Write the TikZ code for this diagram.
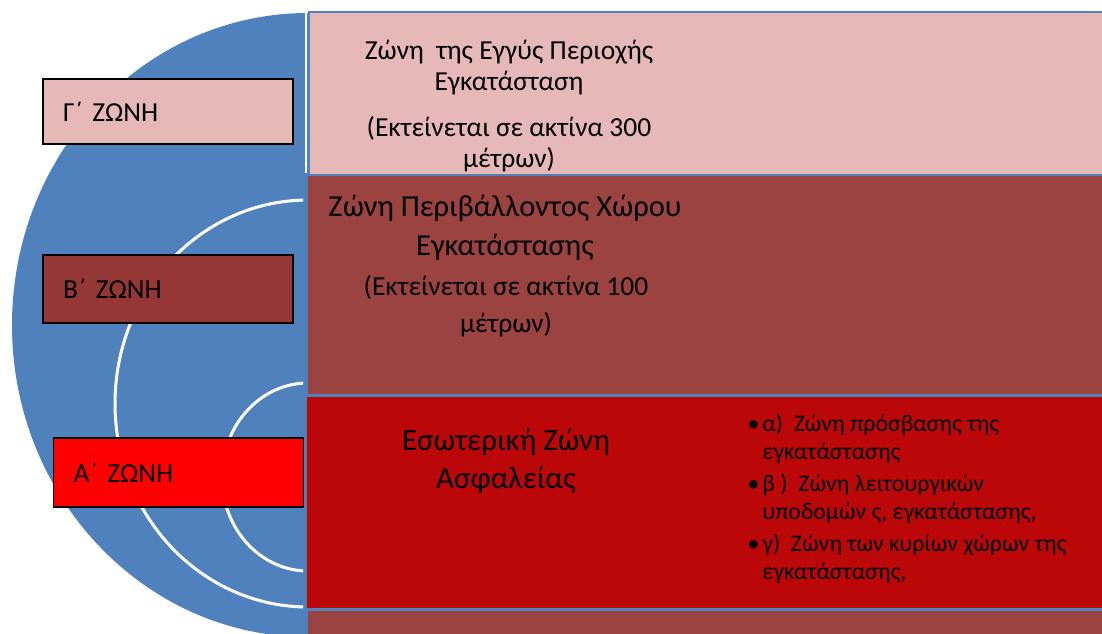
\documentclass[tikz,border=0pt]{standalone}
\usepackage{fontspec}
\setmainfont{Carlito}
\definecolor{zoneBlue}{RGB}{79,129,189}
\definecolor{zonePink}{RGB}{230,185,184}
\definecolor{zoneBrown}{RGB}{154,67,65}
\definecolor{zoneDark}{RGB}{149,55,53}
\definecolor{zoneRed}{RGB}{187,7,7}
\newcommand{\zoneArc}[3]{
    \draw[white, line width=3] (308,#1) ellipse [x radius=#2, y radius=#3]
}

\begin{document}
\begin{tikzpicture}[x=1pt,y=-1pt,
        zonelabel/.style={draw=black, line width=1.3pt, text width=210pt, inner xsep=20pt, align=left, font=\fontsize{27.5}{32}\selectfont},
        zonetext/.style={align=center, font=\fontsize{27.5}{31}\selectfont}]
            \useasboundingbox (0,0) rectangle (1102,633);
            \clip (0,0) rectangle (1102,633);
            \fill[zoneBlue] (308,325) ellipse [x radius=296, y radius=312];
            \begin{scope}
                \clip (0,0) rectangle (303,633);
                \zoneArc{403.5}{193}{203.5};
                \zoneArc{477}{86}{94};
            \end{scope}

            \filldraw[fill=zoneBrown, draw=zoneBlue, line width=2.5] (307,175) rectangle (1110,650);
            \filldraw[fill=zonePink, draw=zoneBlue, line width=2.5] (309,12) rectangle (1110,175);
            \draw[white, line width=2] (305.5,8) -- (305.5,173);
            \filldraw[fill=zoneRed, draw=zoneBlue, line width=3] (305,395) rectangle (1110,609);

            \node[zonelabel, fill=zonePink, minimum height=65] (zoneC) at (168,111.5) {Γ΄ ΖΩΝΗ};
            \node[zonelabel, fill=zoneDark, minimum height=68] (zoneB) at (168,289) {Β΄ ΖΩΝΗ};
            \node[zonelabel, fill=red, minimum height=69] (zoneA) at (178.5,472.5) {Α΄ ΖΩΝΗ};

            \node[zonetext] (descC1) at (509,67.5) {Ζώνη~ της Εγγύς Περιοχής\\Εγκατάσταση};
            \node[zonetext] (descC2) at (509,144) {(Εκτείνεται σε ακτίνα 300\\μέτρων)};
            \node[zonetext, font=\fontsize{30.5}{39}\selectfont] (descB1) at (505,227.5) {Ζώνη Περιβάλλοντος Χώρου\\Εγκατάστασης};
            \node[zonetext, font=\fontsize{27.5}{37}\selectfont] (descB2) at (506,306.5) {(Εκτείνεται σε ακτίνα 100\\μέτρων)};
            \node[zonetext, font=\fontsize{31}{38}\selectfont] (descA) at (506,461) {Εσωτερική Ζώνη\\Ασφαλείας};
            \node[anchor=west, align=left, font=\fontsize{23.8}{28}\selectfont] (listA) at (744,500) {%
                \begin{tabular}{@{}l@{\hspace{3pt}}l@{}}
                    \textbullet & α)~ Ζώνη πρόσβασης της\\
                    & εγκατάστασης\\[4pt]
                    \textbullet & β )~ Ζώνη λειτουργικών\\
                    & υποδομών ς, εγκατάστασης,\\[4pt]
                    \textbullet & γ)~ Ζώνη των κυρίων χώρων της\\
                    & εγκατάστασης,
                \end{tabular}};
        \end{tikzpicture}
\end{document}
